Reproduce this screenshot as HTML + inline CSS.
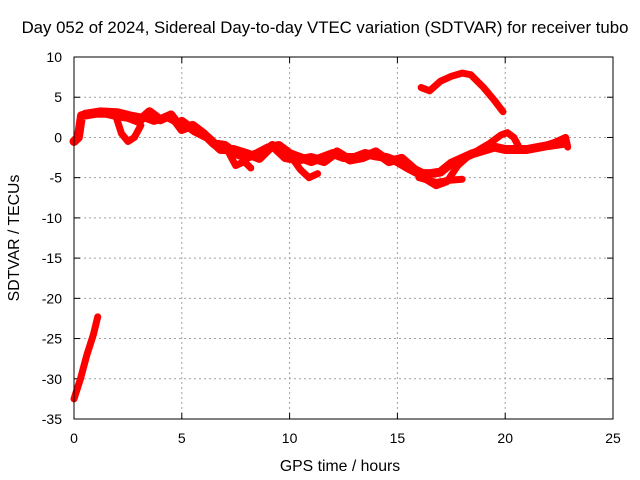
<!DOCTYPE html>
<html><head><meta charset="utf-8"><style>
body{margin:0;background:#fff}
svg{display:block;font-family:"Liberation Sans",sans-serif}
</style></head><body>
<svg id="chart" width="640" height="480" xmlns="http://www.w3.org/2000/svg">
<text x="325" y="33" font-size="16.8" text-anchor="middle">Day 052 of 2024, Sidereal Day-to-day VTEC variation (SDTVAR) for receiver tubo</text>
<text x="340" y="471" font-size="15.8" text-anchor="middle">GPS time / hours</text>
<text transform="translate(19,238) rotate(-90)" font-size="15.8" text-anchor="middle">SDTVAR / TECUs</text>
<g id="grid"></g><g id="ticks"></g><g id="series"></g>
<rect x="74" y="57" width="539" height="362" fill="none" stroke="#000" stroke-width="1"/>
</svg>
<script>
const xTicks=[0,5,10,15,20,25];
const yTicks=[10,5,0,-5,-10,-15,-20,-25,-30,-35];
const trackA=[[0,-32.5],[0.3,-30],[0.6,-27],[0.9,-24.5],[1.1,-22.3]];
const trackMain=[[0,-0.5],[0.2,0],[0.35,2.7],[1,3],[1.5,3],[2,2.7],[2.5,2.5],[3,2],[3.5,3.2],[4,2.2],[4.5,2.8],[5,1],[5.5,1.5],[6,0.5],[6.5,-0.8],[7,-1],[7.5,-2],[8,-2.5],[8.5,-2],[9,-1.3],[9.5,-1],[10,-2],[10.5,-2.5],[11,-3],[11.5,-2.5],[12,-2],[12.5,-2.5],[13,-2.5],[13.5,-2],[14,-2.3],[14.5,-2.5],[15,-3],[15.5,-3.8],[16,-4.5],[16.5,-4.5],[17,-4.3],[17.5,-3.2],[18,-2.6],[18.5,-2],[19,-1.6],[19.5,-1.2],[20,-1.5],[21,-1.5],[22,-1],[22.8,-0.7]];
const trackMain2=[[5,2],[5.6,0.8],[6.2,0],[6.8,-1.5],[7.4,-1.5],[8,-2],[8.6,-2.6],[9.2,-1],[9.8,-2.5],[10.4,-2.8],[11,-2.5],[11.6,-3],[12.2,-1.8],[12.8,-2.8],[13.4,-2.5],[14,-1.8],[14.6,-3],[15.2,-2.6],[15.8,-4],[16.4,-4.8]];
const trackUpperMain=[[0.5,3],[1.2,3.3],[2,3.2],[2.6,2.8],[3.2,2.5],[3.7,2],[4.3,2.5],[5,1.5],[5.6,1]];
const trackArc=[[16.1,6.2],[16.5,5.8],[17,7],[17.5,7.6],[18,8],[18.4,7.8],[19,6.2],[19.5,4.6],[19.9,3.2]];
const trackRise=[[16.3,-5.2],[16.8,-6],[17.3,-5.5],[17.8,-3.5],[18.3,-2.3],[18.8,-1.5],[19.3,-0.7],[19.8,0.3],[20.1,0.6],[20.4,0],[20.6,-1]];
const trackLow=[[16,-5],[16.8,-5.6],[17.5,-5.3],[18,-5.2]];
const trackDip1=[[1.9,3],[2.2,0.5],[2.5,-0.5],[2.8,0],[3.1,1.5]];
const trackDip2=[[7.2,-2],[7.5,-3.5],[7.9,-3],[8.2,-3.8]];
const trackDip3=[[10.1,-2.5],[10.5,-4],[10.9,-5],[11.3,-4.5]];
const trackEnd=[[21.5,-1.3],[22.3,-0.6],[22.8,0],[22.9,-1.2]];
const seriesList=[trackA,trackMain,trackMain2,trackUpperMain,trackArc,trackRise,trackLow,trackDip1,trackDip2,trackDip3,trackEnd];
const X=h=>74+h*(539/25);
const Y=v=>57+(10-v)*(362/45);
const NS="http://www.w3.org/2000/svg";
const grid=document.getElementById('grid'),ticks=document.getElementById('ticks'),ser=document.getElementById('series');
function mk(tag,attrs,parent){const e=document.createElementNS(NS,tag);for(const k in attrs)e.setAttribute(k,attrs[k]);parent.appendChild(e);return e;}
xTicks.forEach(t=>{
  if(t>0&&t<25){const g=mk('line',{x1:X(t),x2:X(t),y1:57,y2:419,stroke:'#a0a0a0','stroke-dasharray':'2,3'},grid);
  
  }
  mk('line',{x1:X(t),x2:X(t),y1:419,y2:413,stroke:'#000'},ticks);
  mk('line',{x1:X(t),x2:X(t),y1:57,y2:63,stroke:'#000'},ticks);
  const l=mk('text',{x:X(t),y:443,'font-size':14,'text-anchor':'middle'},ticks);l.textContent=t;
  
  
});
yTicks.forEach(t=>{
  if(t<10&&t>-35){const g=mk('line',{x1:74,x2:613,y1:Y(t),y2:Y(t),stroke:'#a0a0a0','stroke-dasharray':'2,3'},grid);
  
  }
  mk('line',{x1:74,x2:80,y1:Y(t),y2:Y(t),stroke:'#000'},ticks);
  mk('line',{x1:613,x2:607,y1:Y(t),y2:Y(t),stroke:'#000'},ticks);
  const l=mk('text',{x:62,y:Y(t)+5,'font-size':14,'text-anchor':'end'},ticks);l.textContent=t;
  
  
});
seriesList.forEach((s,i)=>{
  const p=mk('polyline',{points:s.map(d=>X(d[0])+','+Y(d[1])).join(' '),fill:'none',stroke:'#ff0000','stroke-width':(i===1||i===2)?9:7,'stroke-linejoin':'round','stroke-linecap':'round'},ser);
  
  
});
</script>
</body></html>
